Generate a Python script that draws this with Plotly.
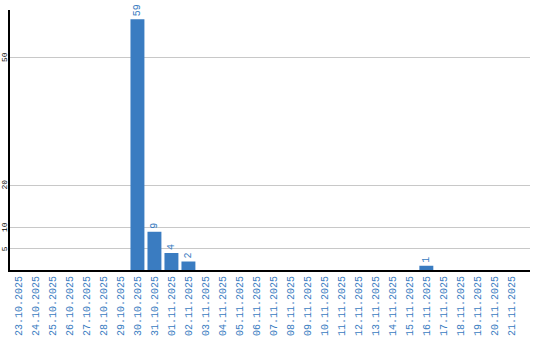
import plotly.graph_objects as go

dates = ["23.10.2025","24.10.2025","25.10.2025","26.10.2025","27.10.2025","28.10.2025",
         "29.10.2025","30.10.2025","31.10.2025","01.11.2025","02.11.2025","03.11.2025",
         "04.11.2025","05.11.2025","06.11.2025","07.11.2025","08.11.2025","09.11.2025",
         "10.11.2025","11.11.2025","12.11.2025","13.11.2025","14.11.2025","15.11.2025",
         "16.11.2025","17.11.2025","18.11.2025","19.11.2025","20.11.2025","21.11.2025"]
values = [0,0,0,0,0,0,0,59,9,4,2,0,0,0,0,0,0,0,0,0,0,0,0,0,1,0,0,0,0,0]
ytick_vals = [5, 10, 20, 50]

blue = "#3a7cc1"
labels = [str(v) if v > 0 else "" for v in values]

fig = go.Figure(go.Bar(
    x=list(range(len(dates))), y=values, marker_color=blue, marker_line_width=0,
    text=labels, textposition="outside", textangle=-90,
    textfont=dict(family="Liberation Mono", size=10, color=blue),
    cliponaxis=False,
))
fig.update_layout(
    width=540, height=340, margin=dict(l=10, r=10, t=10, b=70),
    plot_bgcolor="white", paper_bgcolor="white", bargap=0.18, showlegend=False,
    font=dict(family="Liberation Mono"),
)
fig.update_xaxes(
    tickmode="array", tickvals=list(range(len(dates))), ticktext=dates,
    tickangle=-90, tickfont=dict(family="Liberation Mono", size=10, color=blue),
    range=[-0.5, 30.1], showline=True, linecolor="black", linewidth=2,
    showgrid=False, ticks="", ticklabelstandoff=0, automargin=False,
)
fig.update_yaxes(
    tickmode="array", tickvals=ytick_vals, range=[0, 61.2], showticklabels=False,
    showline=True, linecolor="black", linewidth=2, showgrid=True,
    gridcolor="#c8c8c8", gridwidth=1, zeroline=False, ticks="", automargin=False,
)
for v in ytick_vals:
    fig.add_annotation(
        x=0, xref="paper", y=v, yref="y", text=str(v), showarrow=False,
        textangle=-90, xanchor="center", yanchor="middle", xshift=-5.5,
        font=dict(family="Liberation Mono", size=8, color="black"),
        borderpad=0,
    )
fig.write_html("out.html")
